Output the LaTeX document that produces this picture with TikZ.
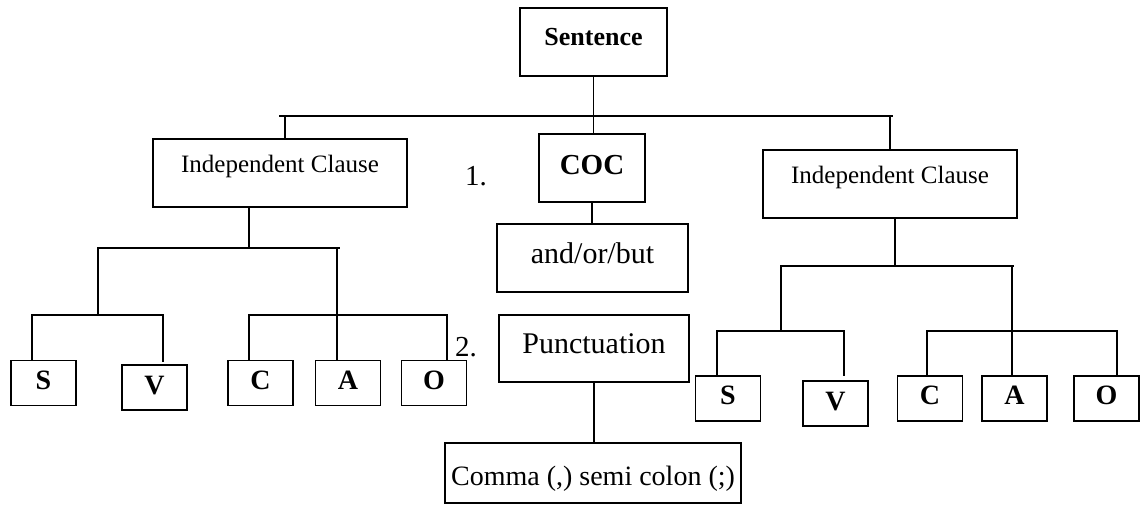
\documentclass[tikz,border=0pt]{standalone}
\usepackage{fontspec}
\setmainfont{Liberation Serif}
\begin{document}
\begin{tikzpicture}[x=1pt,y=-1pt,
  every node/.style={inner sep=0pt, outer sep=0pt},
  box/.style={draw, line width=1.9pt, text depth=0pt},
  ic/.style={box, minimum width=254pt, minimum height=68pt, text height=0pt, text depth=2pt, font=\fontsize{25}{30}\selectfont},
  letter/.style={box, minimum width=65pt, minimum height=45pt, text height=12pt, font=\bfseries\fontsize{28}{33}\selectfont},
  bigtext/.style={font=\fontsize{29}{34}\selectfont},
  link/.style={line width=1.9pt, line cap=rect}]
\useasboundingbox (0,0) rectangle (1141,506);
% boxes
\node[box, minimum width=147pt, minimum height=68pt, text height=6pt, font=\bfseries\fontsize{26}{31}\selectfont] (sent) at (593.5,42) {Sentence};
\node[ic] (ic1) at (280,173) {Independent Clause};
\node[ic] (ic2) at (890,184) {Independent Clause};
\node[box, minimum width=106pt, minimum height=68pt, text height=12pt, font=\bfseries\fontsize{29}{34}\selectfont] (coc) at (592,168) {COC};
\node[box, minimum width=191pt, minimum height=68pt, text height=10pt, font=\fontsize{30}{36}\selectfont] (conj) at (592.5,258) {and/or/but};
\node[box, minimum width=190pt, minimum height=67pt, text height=9pt, font=\fontsize{30}{36}\selectfont] (punct) at (594,348.5) {Punctuation};
\node[box, minimum width=296pt, minimum height=60pt, text height=24pt, font=\fontsize{28}{34}\selectfont] (comma) at (593,473) {Comma (,) semi colon (;)};
\node[bigtext, anchor=base west] (n1) at (465,185) {1.};
\node[bigtext, anchor=base west] (n2) at (455,356) {2.};
% letters
\node[letter] (s1) at (43.5,383) {S};
\node[letter, text height=13pt] (v1) at (154.5,387.5) {V};
\node[letter] (c1) at (260.5,383) {C};
\node[letter] (a1) at (348,383) {A};
\node[letter] (o1) at (434,383) {O};
\node[letter, text height=11pt] (s2) at (728,398.5) {S};
\node[letter, text height=13pt] (v2) at (835.5,403.5) {V};
\node[letter] (c2) at (930,398.5) {C};
\node[letter] (a2) at (1014.5,398.5) {A};
\node[letter] (o2) at (1106.5,398.5) {O};
% top level
\coordinate (tL) at (280,116);
\coordinate (tR) at (892,116);
\coordinate (d1) at (285,116);
\coordinate (d2) at (890,116);
\draw[link] (sent.south) -- (sent.south |- coc.north);
\draw[link] (tL) -- (tR);
\draw[link] (d1) -- (d1 |- ic1.north);
\draw[link] (d2) -- (d2 |- ic2.north);
\draw[link] (coc.south) -- (coc.south |- conj.north);
\draw[link] (punct.south) -- (punct.south |- comma.north);
% left subtree
\coordinate (l0) at (249,248);
\coordinate (l0L) at (98,248);
\coordinate (l0R) at (339,248);
\coordinate (la) at (337,248);
\coordinate (lsvL) at (32,315);
\coordinate (lsvR) at (163,315);
\coordinate (lvend) at (163,361);
\coordinate (lcaoL) at (249,315);
\coordinate (lcaoR) at (447,315);
\draw[link] (l0 |- ic1.south) -- (l0);
\draw[link] (l0L) -- (l0R);
\draw[link] (l0L) -- (l0L |- lsvL);
\draw[link] (lsvL) -- (lsvR);
\draw[link] (lsvL) -- (lsvL |- s1.north);
\draw[link] (lsvR) -- (lvend);
\draw[link] (la) -- (la |- a1.north);
\draw[link] (lcaoL) -- (lcaoR);
\draw[link] (lcaoL) -- (lcaoL |- c1.north);
\draw[link] (lcaoR) -- (lcaoR |- o1.north);
% right subtree
\coordinate (r0) at (895,266);
\coordinate (r0L) at (781,266);
\coordinate (r0R) at (1013,266);
\coordinate (ra) at (1012,266);
\coordinate (rsvL) at (717,331);
\coordinate (rsvR) at (844,331);
\coordinate (rvend) at (844,375);
\coordinate (rcaoL) at (927,331);
\coordinate (rcaoR) at (1117,331);
\draw[link] (r0 |- ic2.south) -- (r0);
\draw[link] (r0L) -- (r0R);
\draw[link] (r0L) -- (r0L |- rsvL);
\draw[link] (rsvL) -- (rsvR);
\draw[link] (rsvL) -- (rsvL |- s2.north);
\draw[link] (rsvR) -- (rvend);
\draw[link] (ra) -- (ra |- a2.north);
\draw[link] (rcaoL) -- (rcaoR);
\draw[link] (rcaoL) -- (rcaoL |- c2.north);
\draw[link] (rcaoR) -- (rcaoR |- o2.north);
\end{tikzpicture}
\end{document}
